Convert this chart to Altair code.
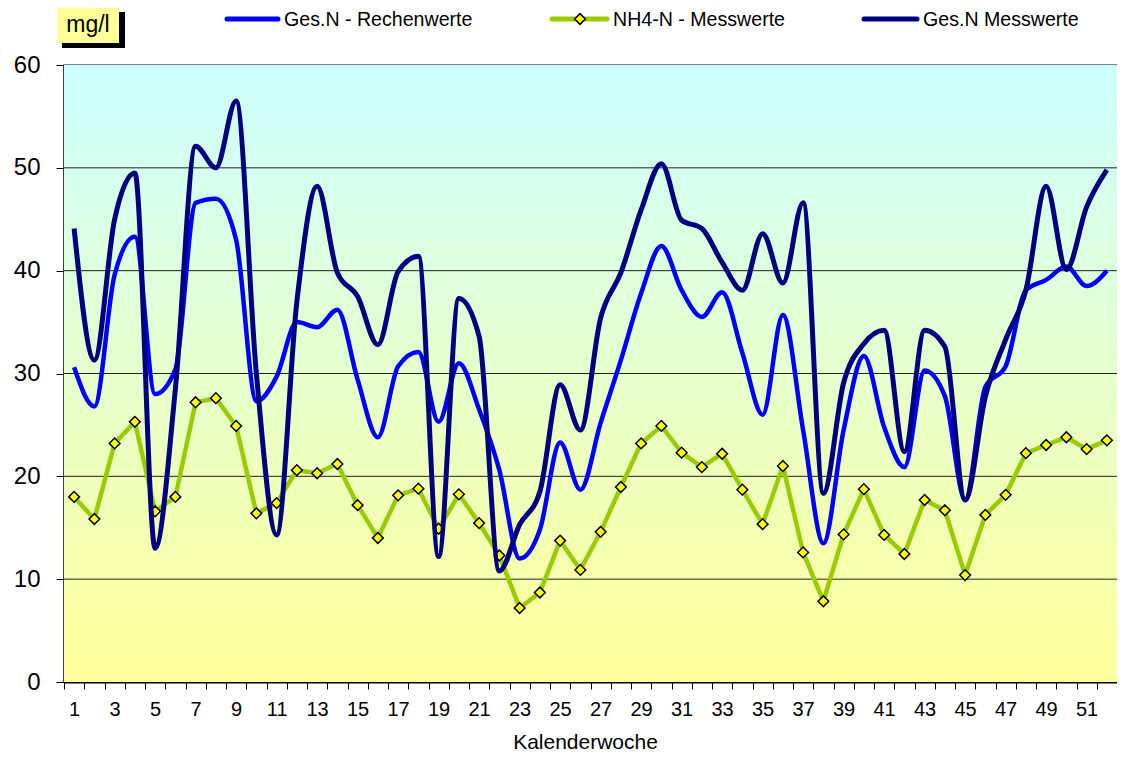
import altair as alt
import pandas as pd

FONT = "Liberation Sans"

weeks = list(range(1, 53))
names = ["Ges.N - Rechenwerte", "NH4-N - Messwerte", "Ges.N Messwerte"]

rechen = [30.6, 26.8, 39.6, 43.3, 28.0, 30.4, 46.6, 47.0, 43.0, 27.3,
          29.7, 35.0, 34.5, 36.2, 29.4, 23.8, 30.7, 32.1, 25.3, 31.0,
          26.5, 20.6, 12.0, 14.8, 23.3, 18.7, 25.2, 31.3, 37.8, 42.4,
          38.1, 35.5, 37.9, 32.0, 26.0, 35.7, 24.5, 13.5, 24.5, 31.7,
          24.8, 20.9, 30.3, 27.8, 17.7, 28.7, 30.7, 38.1, 39.1, 40.4,
          38.5, 40.0]
nh4 = [18.0, 15.85, 23.2, 25.3, 16.6, 18.0, 27.2, 27.6, 24.9, 16.4,
       17.4, 20.6, 20.3, 21.2, 17.2, 14.0, 18.15, 18.8, 14.9, 18.25,
       15.45, 12.3, 7.2, 8.7, 13.75, 10.9, 14.6, 18.96, 23.2, 24.9,
       22.3, 20.9, 22.2, 18.7, 15.35, 21.0, 12.6, 7.85, 14.35, 18.75,
       14.3, 12.45, 17.7, 16.7, 10.4, 16.25, 18.2, 22.25, 23.05, 23.8,
       22.65, 23.5]
mess = [44.1, 31.3, 45.0, 49.5, 13.0, 28.5, 52.1, 50.0, 56.5, 30.0,
        14.3, 37.0, 48.2, 39.8, 37.5, 32.8, 39.9, 41.4, 12.2, 37.3,
        33.6, 10.8, 15.3, 18.5, 28.9, 24.5, 35.4, 39.8, 45.9, 50.4,
        44.9, 44.1, 40.8, 38.1, 43.6, 38.8, 46.6, 18.35, 29.1, 32.9,
        34.2, 22.4, 34.2, 32.6, 17.7, 27.75, 33.3, 38.1, 48.2, 40.1,
        46.2, 49.8]
y_ticks = [0, 10, 20, 30, 40, 50, 60]
grid_vals = [10, 20, 30, 40, 50]

W, H = 1053, 617

df_r = pd.DataFrame({"week": weeks, "value": rechen})
df_n = pd.DataFrame({"week": weeks, "value": nh4})
df_m = pd.DataFrame({"week": weeks, "value": mess})
df_g = pd.DataFrame({"value": grid_vals})
one = pd.DataFrame({"k": [0]})

x_enc = alt.X(
    "week:O",
    scale=alt.Scale(type="band", domain=weeks, paddingInner=0, paddingOuter=0),
    axis=alt.Axis(
        tickBand="extent", labelAngle=0,
        labelExpr="datum.value % 2 == 1 ? datum.label : ''",
        labelFontSize=20, labelColor="black", labelPadding=10,
        tickSize=7, tickColor="black", tickWidth=1,
        domainColor="black", domainWidth=2, grid=False,
        title="Kalenderwoche", titleFontSize=21, titleFontWeight="normal",
        titleColor="black", titleX=521, titleY=66, titleBaseline="alphabetic",
        titleAlign="center",
    ),
)
y_scale = alt.Scale(domain=[0, 60], nice=False, zero=True)
y_enc = alt.Y(
    "value:Q", scale=y_scale,
    axis=alt.Axis(
        values=y_ticks, grid=False, labelFontSize=24, labelColor="black",
        labelPadding=16, tickSize=8, tickColor="black", tickWidth=1,
        domainColor="black", domainWidth=2, title=None,
    ),
)

grad = alt.LinearGradient(
    gradient="linear",
    stops=[alt.GradientStop(color="#CCFFFF", offset=0),
           alt.GradientStop(color="#FFFF99", offset=1)],
    x1=0, x2=0, y1=0, y2=1,
)

bg = alt.Chart(one).mark_rect(fill=grad).encode(
    x=alt.value(0), x2=alt.value(W), y=alt.value(0), y2=alt.value(H)
)

grid = alt.Chart(df_g).mark_rule(color="#222222", strokeWidth=1).encode(
    y=alt.Y("value:Q", scale=y_scale)
)

line_r = alt.Chart(df_r).mark_line(
    interpolate="monotone", color="#0000FF", strokeWidth=4.5
).encode(x=x_enc, y=y_enc)

line_n = alt.Chart(df_n).mark_line(color="#99CC00", strokeWidth=4.5).encode(
    x=x_enc, y=y_enc
)
pts_n = alt.Chart(df_n).mark_point(
    shape="diamond", filled=True, fill="#FFFF00", stroke="black",
    strokeWidth=1.5, size=115, opacity=1
).encode(x=x_enc, y=y_enc)

line_m = alt.Chart(df_m).mark_line(
    interpolate="monotone", color="#000080", strokeWidth=5
).encode(x=x_enc, y=y_enc)

# legend
LY = -46
leg = []
for name, col, x0, x1 in [(names[0], "#0000FF", 163, 214),
                          (names[1], "#99CC00", 488, 543),
                          (names[2], "#000080", 800, 853)]:
    leg.append(alt.Chart(one).mark_rule(color=col, strokeWidth=5, strokeCap="round").encode(
        x=alt.value(x0), x2=alt.value(x1), y=alt.value(LY)))
    leg.append(alt.Chart(pd.DataFrame({"t": [name]})).mark_text(
        align="left", baseline="middle", fontSize=19.6, font=FONT, color="black"
    ).encode(x=alt.value(x1 + 6), y=alt.value(LY + 1), text="t:N"))
leg.append(alt.Chart(one).mark_point(
    shape="diamond", filled=True, fill="#FFFF00", stroke="black",
    strokeWidth=1.5, size=115, opacity=1
).encode(x=alt.value(516), y=alt.value(LY)))

# unit box
shadow = alt.Chart(one).mark_rect(color="black").encode(
    x=alt.value(-2), x2=alt.value(61), y=alt.value(-53), y2=alt.value(-17))
box = alt.Chart(one).mark_rect(color="#FFFF99").encode(
    x=alt.value(-7), x2=alt.value(55), y=alt.value(-58), y2=alt.value(-22))
unit = alt.Chart(pd.DataFrame({"t": ["mg/l"]})).mark_text(
    align="center", baseline="middle", fontSize=23, font=FONT, color="black"
).encode(x=alt.value(24), y=alt.value(-40), text="t:N")

chart = alt.layer(
    bg, grid, line_r, line_n, pts_n, line_m, *leg, shadow, box, unit
).properties(
    width=W, height=H,
    padding={"left": 56, "top": 57, "right": 0, "bottom": 71},
    autosize=alt.AutoSizeParams(type="none"),
).configure(font=FONT).configure_view(stroke="#808080", strokeWidth=2)

chart.save("out.html", embed_options={"renderer": "svg", "actions": False})
